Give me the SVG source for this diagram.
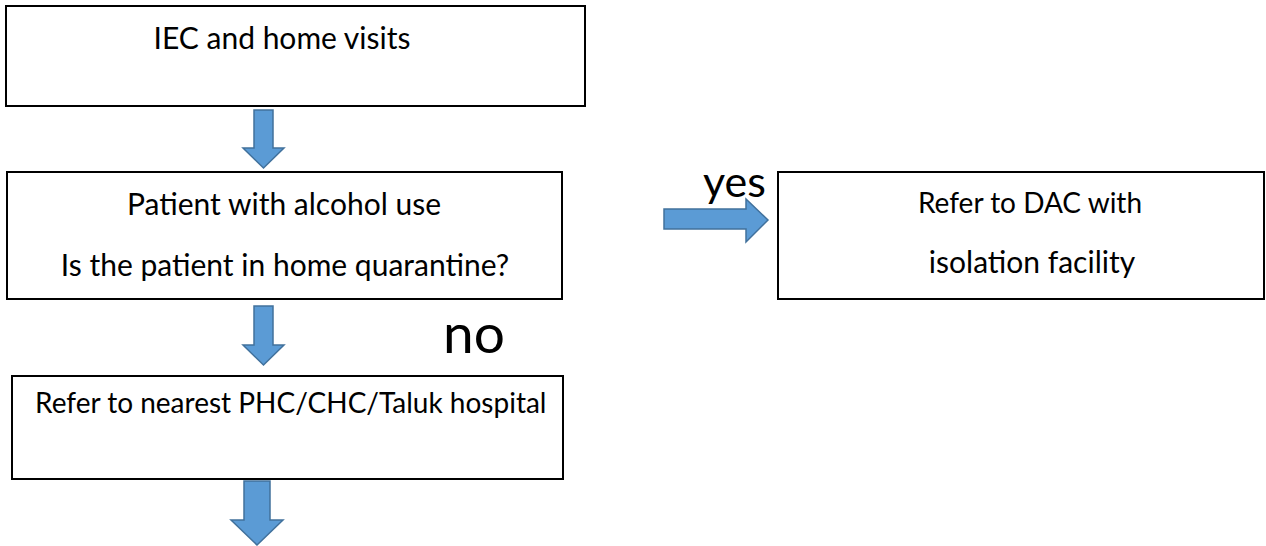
<svg xmlns="http://www.w3.org/2000/svg" width="1266" height="546" viewBox="0 0 1266 546">
<style>
.box{fill:#fff;stroke:#000;stroke-width:2}
.t{font-family:Lato,"Liberation Sans",sans-serif;fill:#000}
.arr{fill:#5B9BD5;stroke:#41719C;stroke-width:1.5}
</style>
<rect width="1266" height="546" fill="#fff"/>
<g id="n1"><rect class="box" x="6" y="6" width="579" height="100"/><text class="t" x="282" y="49" font-size="30" text-anchor="middle">IEC and home visits</text></g>
<g id="n2"><rect class="box" x="7" y="172" width="555" height="127"/><text class="t" x="284" y="215" font-size="30" text-anchor="middle">Patient with alcohol use</text><text class="t" x="285" y="276" font-size="30" text-anchor="middle">Is the patient in home quarantine?</text></g>
<g id="n3"><rect class="box" x="778" y="172" width="486" height="127"/><text class="t" x="1030" y="213" font-size="28" text-anchor="middle">Refer to DAC with</text><text class="t" x="1032" y="273" font-size="30" text-anchor="middle">isolation facility</text></g>
<g id="n4"><rect class="box" x="12" y="376" width="551" height="103"/><text class="t" x="35" y="413" font-size="28">Refer to nearest PHC/CHC/Taluk hospital</text></g>
<g id="connectors">
<polygon class="arr" points="254,110 273,110 273,148 284,148 263.5,168 243,148 254,148"/>
<polygon class="arr" points="254,306 273,306 273,345 284,345 263.5,365 243,345 254,345"/>
<polygon class="arr" points="244,481 270,481 270,520 283,520 257,545 231,520 244,520"/>
<polygon class="arr" points="664,209 746,209 746,199 768,220 746,242 746,229 664,229"/>
<text class="t" x="703" y="197" font-size="43">yes</text>
<text class="t" x="443" y="353" font-size="55">no</text>
</g>
</svg>
